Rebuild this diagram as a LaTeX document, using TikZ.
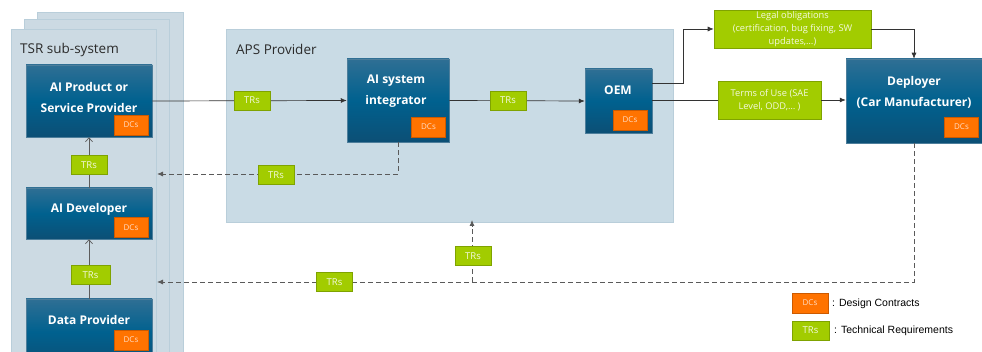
\documentclass[tikz,border=0pt]{standalone}
\usepackage{fontspec}
\setmainfont{Open Sans}
\newfontfamily\legendfont{Liberation Sans}
\usetikzlibrary{arrows.meta}

\definecolor{panelfill}{HTML}{C9DBE5}
\definecolor{panelline}{HTML}{B9CEDA}
\definecolor{tsrfill}{HTML}{CCDAE3}
\definecolor{boxtop}{HTML}{2F6F94}
\definecolor{boxmid}{HTML}{00618F}
\definecolor{boxbot}{HTML}{0C4F75}
\definecolor{boxline}{HTML}{4D7E9B}
\definecolor{dcfill}{HTML}{FF7300}
\definecolor{dcline}{HTML}{CC5A00}
\definecolor{dctext}{HTML}{FFDCC4}
\definecolor{trfill}{HTML}{A2CC00}
\definecolor{trline}{HTML}{7FA300}
\definecolor{trtext}{HTML}{F4F9DF}
\definecolor{wire}{HTML}{333333}
\definecolor{dashwire}{HTML}{5A5A5A}
\definecolor{titletext}{HTML}{2B2B2B}

\tikzset{
  panel/.style={fill=panelfill, draw=panelline, line width=0.6pt, inner sep=0pt},
  tsrpanel/.style={fill=tsrfill, draw=panelline, line width=0.6pt, inner sep=0pt},
  actor/.style={draw=boxline, line width=0.5pt, top color=boxtop, bottom color=boxbot,
    middle color=boxmid, inner sep=0pt},
  actortext/.style={text=white, font=\fontsize{12}{21}\selectfont\bfseries, align=center, inner sep=0pt},
  dcbox/.style={fill=dcfill, draw=dcline, line width=0.6pt, minimum width=34pt, minimum height=20pt,
    inner sep=0pt, text=dctext, font=\fontsize{8}{9}\selectfont},
  trbox/.style={fill=trfill, draw=trline, line width=0.6pt, minimum width=36pt, minimum height=19pt,
    inner sep=0pt, text=trtext, font=\fontsize{9.5}{10}\selectfont},
  notebox/.style={fill=trfill, draw=trline, line width=0.6pt, inner sep=0pt, text=trtext,
    align=center, font=\fontsize{9.3}{13}\selectfont},
  paneltitle/.style={text=titletext, font=\fontsize{13.5}{15}\selectfont, anchor=west, inner sep=0pt},
  wirearrow/.style={draw=wire, line width=0.7pt, -{Latex[length=6pt,width=5pt]}},
  wireplain/.style={draw=wire, line width=0.7pt},
  stackarrow/.style={draw=wire!80, line width=0.7pt, -{Straight Barb[length=4pt,width=7pt]}},
  dasharrow/.style={draw=dashwire, line width=0.8pt, dash pattern=on 5pt off 3pt,
    -{Latex[length=6pt,width=5pt]}},
  legendtext/.style={font=\legendfont\fontsize{10.5}{12}\selectfont, anchor=west, inner sep=0pt},
}

\begin{document}
\begin{tikzpicture}[x=1pt, y=-1pt]
  \useasboundingbox (0,0) rectangle (982,352);
  \fill[white] (0,0) rectangle (982,352);

  % TSR sub-system: three stacked sheets
  \node[tsrpanel, minimum width=146pt, minimum height=360pt] (tsr3) at (110,192) {};
  \node[tsrpanel, minimum width=145pt, minimum height=352pt] (tsr2) at (96.5,195) {};
  \node[tsrpanel, minimum width=145pt, minimum height=344pt] (tsr1) at (83.5,201) {};
  \node[paneltitle] (tsrtitle) at (20,50) {TSR sub-system};

  % APS provider panel
  \node[panel, minimum width=447pt, minimum height=193pt] (aps) at (449.5,125.5) {};
  \node[paneltitle] (apstitle) at (236,49) {APS Provider};

  % Actors
  \node[actor, minimum width=126pt, minimum height=72pt] (aip) at (89,101) {};
  \node[actortext] (aiptext) at (89,97.5) {AI Product or\\Service Provider};
  \node[dcbox] (aipdc) at (131,125) {DCs};

  \node[actor, minimum width=126pt, minimum height=51pt] (aid) at (89,213.5) {};
  \node[actortext] (aidtext) at (89,209) {AI Developer};
  \node[dcbox] (aiddc) at (131,227.5) {DCs};

  \node[actor, minimum width=126pt, minimum height=66pt] (dp) at (89,332) {};
  \node[actortext] (dptext) at (89,320) {Data Provider};
  \node[dcbox] (dpdc) at (131,340) {DCs};

  \node[actor, minimum width=102pt, minimum height=83pt] (aisi) at (398,100.5) {};
  \node[actortext] (aisitext) at (396,91.5) {AI system\\integrator};
  \node[dcbox] (aisidc) at (428.5,127) {DCs};

  \node[actor, minimum width=67pt, minimum height=64pt] (oem) at (618.5,101) {};
  \node[actortext] (oemtext) at (618,90) {OEM};
  \node[dcbox] (oemdc) at (630,120) {DCs};

  \node[actor, minimum width=136pt, minimum height=84pt] (dep) at (914,101) {};
  \node[actortext] (deptext) at (914,92) {Deployer\\(Car Manufacturer)};
  \node[dcbox] (depdc) at (961.5,127) {DCs};

  % Obligations passed on to the deployer
  \node[notebox, minimum width=157pt, minimum height=38pt] (legal) at (792.5,29)
    {Legal obligations\\(certification, bug fixing, SW\\updates,\ldots)};
  \node[notebox, minimum width=103pt, minimum height=38pt] (tou) at (769.5,100)
    {Terms of Use (SAE\\Level, ODD,\ldots\ )};

  % Auxiliary points for the routed connectors
  \coordinate (oemup) at (652,83);
  \coordinate (bend) at (683,83);
  \coordinate (feedA) at (157,174);
  \coordinate (feedB) at (157,282);
  \coordinate (apsin) at (472,220);
  \coordinate (apsfoot) at (472,282);

  % Solid flows
  \draw[wirearrow] (aip.east) -- (aisi.west);
  \draw[wirearrow] (aisi.east) -- (oem.west);
  \draw[wirearrow] (oemup) -- (bend) |- (legal.west);
  \draw[wirearrow] (legal.east) -| (dep.north);
  \draw[wireplain] (oem.east |- tou.west) -- (tou.west);
  \draw[wirearrow] (tou.east) -- (dep.west |- tou.east);
  \draw[stackarrow] (aid.north) -- (aip.south);
  \draw[stackarrow] (dp.north) -- (aid.south);

  % Feedback flows
  \draw[dasharrow] (aisi.south) |- (feedA);
  \draw[dasharrow] (dep.south) |- (feedB);
  \draw[dasharrow] (apsfoot) -- (apsin);

  % Technical requirement tags on the flows
  \node[trbox] (tr1) at (252,100.5) {TRs};
  \node[trbox] (tr2) at (508,100.5) {TRs};
  \node[trbox] (tr3) at (276,175) {TRs};
  \node[trbox] (tr4) at (89,165) {TRs};
  \node[trbox, minimum width=39pt] (tr5) at (90.5,275) {TRs};
  \node[trbox] (tr6) at (334.5,282) {TRs};
  \node[trbox] (tr7) at (473,256) {TRs};

  % Legend
  \node[dcbox, minimum width=36pt] (legdc) at (810,303) {DCs};
  \node[legendtext] (legdctext) at (832,304) {: Design Contracts};
  \node[trbox, minimum width=37pt] (legtr) at (810.5,330.5) {TRs};
  \node[legendtext] (legtrtext) at (834,331) {: Technical Requirements};
\end{tikzpicture}
\end{document}
